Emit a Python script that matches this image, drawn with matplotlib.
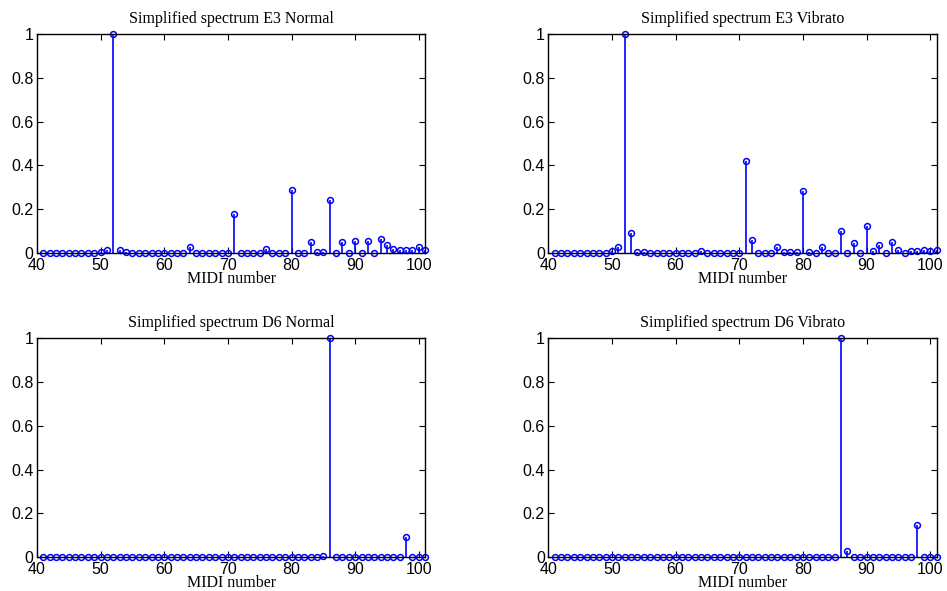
import numpy as np
import matplotlib
matplotlib.use("Agg")
import matplotlib.pyplot as plt

# MIDI numbers 41..101
midi = np.arange(41, 102)

e3_normal = [0, 0, 0, 0, 0, 0, 0, 0, 0, 0.005,
             0.012, 1.0, 0.015, 0.003, 0, 0, 0, 0, 0, 0,
             0, 0, 0, 0.028, 0, 0, 0, 0, 0, 0.002,
             0.177, 0, 0, 0, 0, 0.017, 0, 0, 0, 0.289,
             0, 0, 0.049, 0.003, 0.003, 0.24, 0, 0.049, 0, 0.055,
             0, 0.055, 0, 0.062, 0.038, 0.017, 0.012, 0.015, 0.015, 0.026,
             0.015]

e3_vibrato = [0, 0, 0, 0, 0, 0, 0, 0, 0, 0.009,
              0.025, 1.0, 0.091, 0.005, 0.005, 0, 0, 0, 0, 0,
              0, 0, 0, 0.01, 0, 0, 0, 0, 0, 0,
              0.42, 0.058, 0, 0, 0, 0.026, 0.003, 0.003, 0.003, 0.283,
              0.004, 0, 0.025, 0, 0, 0.10, 0, 0.045, 0, 0.122,
              0.009, 0.038, 0, 0.048, 0.015, 0, 0.009, 0.008, 0.014, 0.011,
              0.014]

d6_normal = [0.0] * 61
d6_normal[85 - 41] = 0.006
d6_normal[86 - 41] = 1.0
d6_normal[98 - 41] = 0.091

d6_vibrato = [0.0] * 61
d6_vibrato[86 - 41] = 1.0
d6_vibrato[87 - 41] = 0.027
d6_vibrato[98 - 41] = 0.145

titles = ["Simplified spectrum E3 Normal", "Simplified spectrum E3 Vibrato",
          "Simplified spectrum D6 Normal", "Simplified spectrum D6 Vibrato"]
series = [e3_normal, e3_vibrato, d6_normal, d6_vibrato]

plt.rcParams["font.family"] = "Liberation Sans"
serif = "Liberation Serif"

fig = plt.figure(figsize=(9.47, 5.91), dpi=100)
positions = [[0.039, 0.572, 0.41, 0.370],
             [0.579, 0.572, 0.41, 0.370],
             [0.039, 0.0575, 0.41, 0.370],
             [0.579, 0.0575, 0.41, 0.370]]

for pos, title, vals in zip(positions, titles, series):
    ax = fig.add_axes(pos)
    markerline, stemlines, baseline = ax.stem(midi, vals, linefmt="b-", markerfmt="bo", basefmt=" ")
    stemlines.set_linewidth(1.2)
    stemlines.set_color("#0000ff")
    markerline.set_markerfacecolor("none")
    markerline.set_markeredgecolor("#0000ff")
    markerline.set_markersize(4.2)
    markerline.set_markeredgewidth(1.1)
    markerline.set_clip_on(False)
    baseline.set_visible(False)

    ax.set_xlim(40, 101)
    ax.set_ylim(0, 1)
    ax.set_xticks([40, 50, 60, 70, 80, 90, 100])
    ax.set_yticks([0, 0.2, 0.4, 0.6, 0.8, 1])
    ax.set_yticklabels(["0", "0.2", "0.4", "0.6", "0.8", "1"])
    ax.tick_params(direction="in", top=True, right=True, length=4, width=0.8,
                   labelsize=11.5)
    ax.tick_params(axis="x", pad=3.5)
    ax.tick_params(axis="y", pad=2.5)
    for sp in ax.spines.values():
        sp.set_linewidth(1.0)
    ax.set_title(title, fontfamily=serif, fontsize=11.5, pad=8)
    ax.set_xlabel("MIDI number", fontfamily=serif, fontsize=11.5, labelpad=-1)

fig.savefig("out.png", dpi=100)
